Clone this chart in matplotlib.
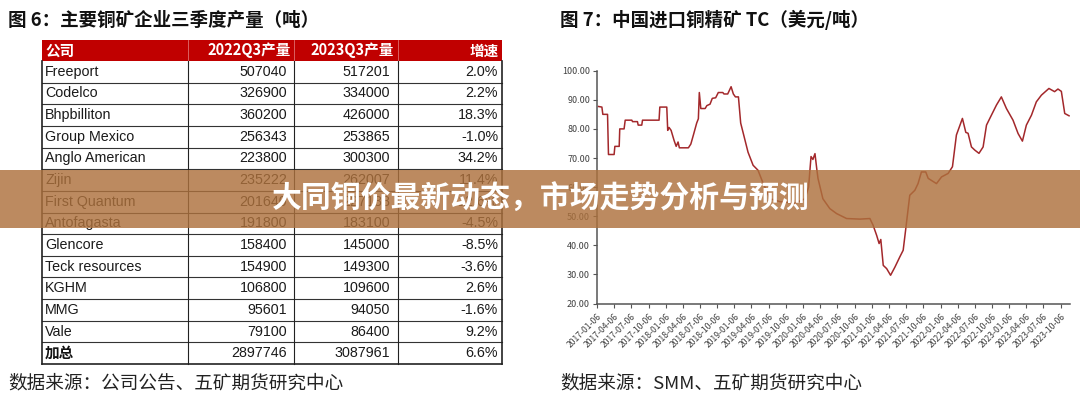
import matplotlib
matplotlib.use('Agg')
import matplotlib.pyplot as plt
import pandas as pd
from matplotlib.patches import Rectangle
from matplotlib.lines import Line2D

plt.rcParams['font.family'] = ['Noto Sans CJK SC', 'DejaVu Sans']

# ---------------- data ----------------
fig6_title = '图 6：主要铜矿企业三季度产量（吨）'
fig7_title = '图 7：中国进口铜精矿 TC（美元/吨）'
src_left = '数据来源：公司公告、五矿期货研究中心'
src_right = '数据来源：SMM、五矿期货研究中心'
banner_text = '大同铜价最新动态，市场走势分析与预测'

table_header = ['公司', '2022Q3产量', '2023Q3产量', '增速']
companies = ['Freeport', 'Codelco', 'Bhpbilliton', 'Group Mexico', 'Anglo American',
             'Zijin', 'First Quantum', 'Antofagasta', 'Glencore', 'Teck resources',
             'KGHM', 'MMG', 'Vale']
q3_2022 = [507040, 326900, 360200, 256343, 223800, 235222, 201640, 191800,
           158400, 154900, 106800, 95601, 79100]
q3_2023 = [517201, 334000, 426000, 253865, 300300, 262007, 227138, 183100,
           145000, 149300, 109600, 94050, 86400]
growth = ['2.0%', '2.2%', '18.3%', '-1.0%', '34.2%', '11.4%', '12.6%', '-4.5%',
          '-8.5%', '-3.6%', '2.6%', '-1.6%', '9.2%']
total_label = '加总'
total_2022 = 2897746
total_2023 = 3087961
total_growth = '6.6%'

tc_dates = ['2017-01-13', '2017-01-31', '2017-02-05', '2017-03-02', '2017-03-07', '2017-04-06',
            '2017-04-10', '2017-05-03', '2017-05-06', '2017-05-29', '2017-06-04', '2017-07-09',
            '2017-07-13', '2017-08-08', '2017-08-12', '2017-08-31', '2017-09-04', '2017-12-01',
            '2017-12-05', '2018-01-11', '2018-01-16', '2018-01-23', '2018-02-03', '2018-02-19',
            '2018-03-02', '2018-03-12', '2018-03-19', '2018-05-06', '2018-05-19', '2018-06-02',
            '2018-06-19', '2018-06-28', '2018-07-03', '2018-07-11', '2018-08-03', '2018-08-12',
            '2018-08-29', '2018-09-10', '2018-09-28', '2018-10-12', '2018-11-05', '2018-11-11',
            '2018-12-01', '2018-12-19', '2018-12-31', '2019-01-11', '2019-01-27', '2019-02-08',
            '2019-02-26', '2019-03-19', '2019-04-15', '2019-05-11', '2019-06-05', '2019-07-14',
            '2019-09-05', '2019-11-24', '2020-01-16', '2020-02-04', '2020-02-17', '2020-02-27',
            '2020-03-09', '2020-03-19', '2020-03-25', '2020-04-20', '2020-05-27', '2020-07-02',
            '2020-08-24', '2020-11-03', '2020-12-26', '2021-01-12', '2021-01-31', '2021-02-13',
            '2021-02-22', '2021-03-07', '2021-03-25', '2021-04-15', '2021-05-08', '2021-06-03',
            '2021-06-21', '2021-07-05', '2021-07-26', '2021-08-22', '2021-09-08', '2021-09-26',
            '2021-10-19', '2021-11-01', '2021-12-15', '2022-01-11', '2022-02-15', '2022-03-10',
            '2022-03-31', '2022-05-02', '2022-05-20', '2022-06-01', '2022-06-19', '2022-07-07',
            '2022-07-29', '2022-08-20', '2022-09-07', '2022-10-03', '2022-10-30', '2022-11-25',
            '2022-12-22', '2023-01-26', '2023-02-22', '2023-03-17', '2023-04-07', '2023-05-04',
            '2023-05-30', '2023-06-26', '2023-08-05', '2023-09-04', '2023-09-22', '2023-10-10',
            '2023-10-28', '2023-11-20']
tc_values = [87.7, 87.5, 85.0, 85.0, 71.2, 71.2,
             74.0, 74.0, 80.0, 80.0, 83.0, 83.0,
             82.5, 82.5, 81.3, 81.3, 83.0, 83.0,
             87.5, 87.5, 79.5, 80.5, 79.5, 76.0,
             74.0, 75.5, 73.5, 73.5, 74.8, 78.0,
             82.0, 83.5, 92.5, 87.0, 87.0, 88.0,
             88.5, 90.5, 90.7, 92.5, 92.5, 92.0,
             92.0, 94.5, 92.0, 91.0, 91.0, 82.0,
             77.4, 72.0, 67.5, 65.8, 61.7, 56.0,
             55.0, 54.5, 56.0, 60.0, 70.5, 69.5,
             71.5, 66.0, 63.0, 56.0, 52.6, 50.9,
             49.2, 49.0, 49.2, 46.9, 43.4, 40.6,
             42.0, 33.1, 32.0, 29.7, 32.5, 36.0,
             38.3, 45.8, 57.2, 58.9, 61.2, 65.2,
             65.2, 63.0, 61.2, 63.5, 64.7, 67.0,
             77.9, 83.6, 78.8, 78.5, 73.8, 72.7,
             71.6, 73.8, 81.3, 84.7, 88.2, 91.0,
             87.0, 83.0, 78.4, 75.8, 81.3, 84.7,
             89.3, 91.6, 93.9, 92.8, 93.7, 92.9,
             85.3, 84.5]
tick_dates = [f'{y}-{m:02d}-06' for y in range(2017, 2024) for m in (1, 4, 7, 10)]
y_ticks = [20, 30, 40, 50, 60, 70, 80, 90, 100]

# ---------------- figure ----------------
W, H = 1080, 399
fig = plt.figure(figsize=(W / 100, H / 100), dpi=100)
fig.patch.set_facecolor('white')

# pixel-space canvas for titles and the table
pa = fig.add_axes([0, 0, 1, 1])
pa.set_xlim(0, W)
pa.set_ylim(H, 0)
pa.axis('off')

title_kw = dict(fontsize=13.3, fontweight='bold', color='#111111', va='center', ha='left')
pa.text(8, 20, fig6_title, **title_kw)
pa.text(560, 20, fig7_title, **title_kw)
src_kw = dict(fontsize=13.4, color='#222222', va='center', ha='left')
pa.text(8, 383, src_left, **src_kw)
pa.text(560, 383, src_right, **src_kw)

# table
col_edges = [42, 188, 294, 398, 502]
head_top, head_bot = 39.5, 61.0
n_rows = len(companies) + 1
row_h = (364.0 - head_bot) / n_rows

pa.add_patch(Rectangle((col_edges[0], head_top), col_edges[-1] - col_edges[0],
                       head_bot - head_top, facecolor='#C00000', edgecolor='none'))
for e in col_edges[1:-1]:
    pa.add_line(Line2D([e, e], [head_top, head_bot], color='#E07070', lw=0.6))
hdr_kw = dict(fontsize=10.5, fontweight='bold', color='white', va='center')
hy = (head_top + head_bot) / 2
pa.text(45, hy, table_header[0], ha='left', **hdr_kw)
pa.text(291, hy, table_header[1], ha='right', **hdr_kw)
pa.text(394, hy, table_header[2], ha='right', **hdr_kw)
pa.text(499, hy, table_header[3], ha='right', **hdr_kw)

body_kw = dict(fontsize=10.3, color='#1a1a1a', va='center', family=['Liberation Sans', 'DejaVu Sans'])
rows = list(zip(companies, q3_2022, q3_2023, growth)) + [(total_label, total_2022, total_2023, total_growth)]
for i, (name, a, b, g) in enumerate(rows):
    cy = head_bot + (i + 0.5) * row_h
    if name == total_label:
        pa.text(45, cy, name, ha='left', fontsize=10.5, fontweight='bold', color='#111111',
                va='center', family=['Noto Sans CJK SC', 'DejaVu Sans'])
    else:
        pa.text(45, cy, name, ha='left', **body_kw)
    pa.text(287, cy, f'{a}', ha='right', **body_kw)
    pa.text(390, cy, f'{b}', ha='right', **body_kw)
    pa.text(498, cy, g, ha='right', **body_kw)

for i in range(1, n_rows):
    yy = head_bot + i * row_h
    pa.add_line(Line2D([col_edges[0], col_edges[-1]], [yy, yy], color='#333333', lw=0.8))
pa.add_line(Line2D([col_edges[0], col_edges[-1]], [364, 364], color='#222222', lw=1.2))
for j, e in enumerate(col_edges):
    lw = 1.2 if j in (0, len(col_edges) - 1) else 0.8
    pa.add_line(Line2D([e, e], [head_bot, 364], color='#222222', lw=lw))

# chart
left, right, top, bottom = 597, 1070, 70.7, 303.5
ax = fig.add_axes([left / W, 1 - bottom / H, (right - left) / W, (bottom - top) / H])
dates = pd.to_datetime(tc_dates)
ax.plot(dates, tc_values, color='#A3282B', lw=1.1)
ax.set_ylim(20, 100)
ax.set_xlim(pd.Timestamp('2017-01-05'), pd.Timestamp('2023-11-25'))
ax.set_yticks(y_ticks)
ax.set_yticklabels([f'{v:.2f}' for v in y_ticks], fontsize=6.5, color='#404040')
td = pd.to_datetime(tick_dates)
ax.set_xticks(td)
ax.set_xticklabels(tick_dates, fontsize=6.2, color='#404040', rotation=45,
                   ha='right', va='top', rotation_mode='anchor')
for s in ('top', 'right'):
    ax.spines[s].set_visible(False)
for s in ('left', 'bottom'):
    ax.spines[s].set_color('#555555')
    ax.spines[s].set_linewidth(1.1)
ax.tick_params(axis='y', length=3, width=0.8, color='#555555', pad=2)
ax.tick_params(axis='x', length=3, width=0.8, color='#555555', pad=3)
ax.set_facecolor('none')

# banner overlay
fig.add_artist(Rectangle((0, 1 - 228.3 / H), 1, (228.3 - 170) / H, transform=fig.transFigure,
                         facecolor='#AD713D', alpha=0.82, edgecolor='none', zorder=10))
fig.text(540.5 / W, 1 - 199 / H, banner_text, ha='center', va='center', fontsize=21.5,
         fontweight='bold', color='white', zorder=11)

fig.savefig('out.png', dpi=100)
